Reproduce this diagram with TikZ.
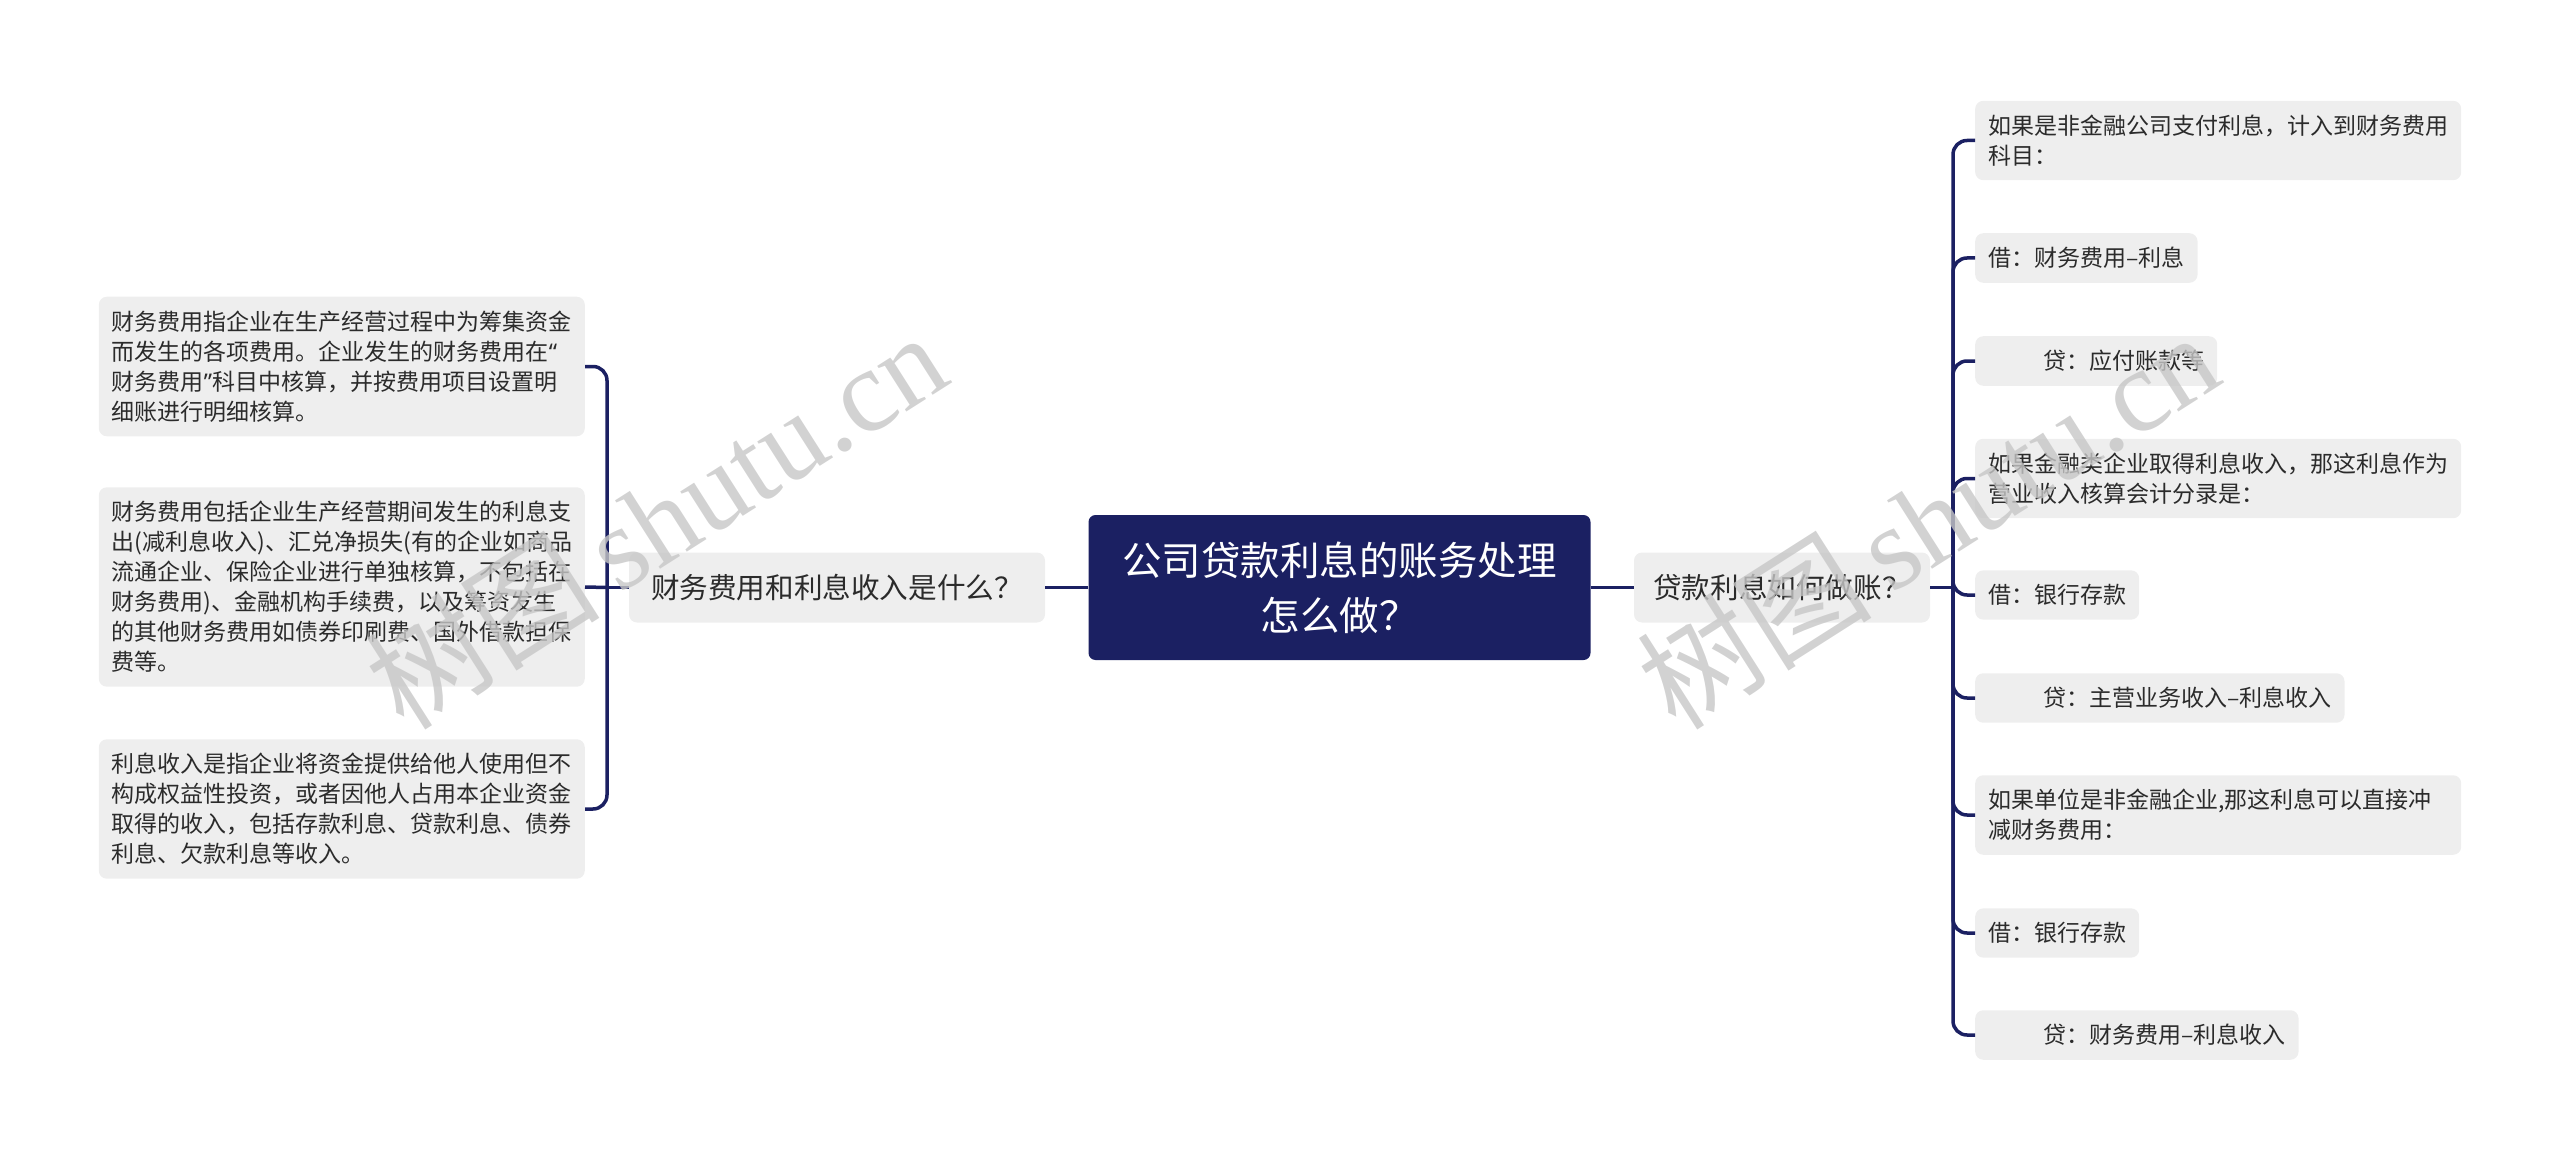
\documentclass[tikz,border=0pt]{standalone}
\usepackage{fontspec}
\setmainfont{Liberation Serif}
\newfontfamily\cjk{Noto Sans CJK SC}
\newfontfamily\quotefont{Noto Sans}
\usepackage{tikz}
\usetikzlibrary{arrows,shapes}
\usetikzlibrary{positioning}
\definecolor{navy}{HTML}{1B2062}
\definecolor{leafbg}{HTML}{EEEEEE}
\definecolor{ink}{HTML}{2B2B2B}
\newcommand{\openq}{{\quotefont “}}
\newcommand{\closeq}{{\quotefont ”}}
\tikzstyle{root} = [fill=navy, rounded corners=7pt, text=white, align=center,
    font=\cjk\fontsize{39.5}{55}\selectfont, minimum width=502pt, minimum height=145pt]
\tikzstyle{topic} = [fill=leafbg, rounded corners=8pt, text=ink, inner xsep=14pt,
    font=\cjk\fontsize{28.6}{36}\selectfont, minimum height=70pt]
\tikzstyle{leaf} = [fill=leafbg, rounded corners=8pt, text=ink, align=left,
    inner xsep=13pt, inner ysep=14pt, font=\cjk\fontsize{23}{30}\selectfont]
\tikzstyle{wide} = [text width=460pt]
\tikzstyle{link} = [draw=navy, line width=3.5pt, rounded corners=14pt]
\tikzstyle{wmark} = [text=black!22, opacity=0.8, font=\fontsize{118}{118}\selectfont]

\begin{document}
\begin{tikzpicture}[x=1pt, y=-1pt]
  \useasboundingbox (0,0) rectangle (2560,1161);
  % Place nodes
  \node [root] (root) at (1339.5,587.5) {公司贷款利息的账务处理\\怎么做？};
  \node [topic, minimum width=416pt] (lq) at (837,587.5) {财务费用和利息收入是什么？};
  \node [topic, minimum width=296pt] (rq) at (1782,587.5) {贷款利息如何做账？};
  % left leaves
  \node [leaf, wide, anchor=east] (l1) at (585,366.5) {财务费用指企业在生产经营过程中为筹集资金\\而发生的各项费用。企业发生的财务费用在\openq\\财务费用\closeq 科目中核算，并按费用项目设置明\\细账进行明细核算。};
  \node [leaf, wide, anchor=east] (l2) at (585,587) {财务费用包括企业生产经营期间发生的利息支\\出(减利息收入)、汇兑净损失(有的企业如商品\\流通企业、保险企业进行单独核算，不包括在\\财务费用)、金融机构手续费，以及筹资发生\\的其他财务费用如债券印刷费、国外借款担保\\费等。};
  \node [leaf, wide, anchor=east] (l3) at (585,809) {利息收入是指企业将资金提供给他人使用但不\\构成权益性投资，或者因他人占用本企业资金\\取得的收入，包括存款利息、贷款利息、债券\\利息、欠款利息等收入。};
  % right leaves
  \node [leaf, wide, anchor=west] (r1) at (1975,140.5) {如果是非金融公司支付利息，计入到财务费用\\科目：};
  \node [leaf, anchor=west] (r2) at (1975,258) {借：财务费用–利息};
  \node [leaf, anchor=west] (r3) at (1975,361) {\hspace*{55pt}贷：应付账款等};
  \node [leaf, wide, anchor=west] (r4) at (1975,478.5) {如果金融类企业取得利息收入，那这利息作为\\营业收入核算会计分录是：};
  \node [leaf, anchor=west] (r5) at (1975,595) {借：银行存款};
  \node [leaf, anchor=west] (r6) at (1975,698) {\hspace*{55pt}贷：主营业务收入–利息收入};
  \node [leaf, wide, anchor=west] (r7) at (1975,815) {如果单位是非金融企业,那这利息可以直接冲\\减财务费用：};
  \node [leaf, anchor=west] (r8) at (1975,933) {借：银行存款};
  \node [leaf, anchor=west] (r9) at (1975,1035) {\hspace*{55pt}贷：财务费用–利息收入};
  \coordinate (lb) at (607,587.5);
  \coordinate (rb) at (1953,587.5);
  % connectors
  \draw [link] (root.west) -- (lq.east);
  \draw [link] (root.east) -- (rq.west);
  \draw [link] (lq.west) -- (lb);
  \draw [link] (rq.east) -- (rb);
  \draw [link] (lb) |- (l1.east);
  \draw [link] (lb) -- (l2.east);
  \draw [link] (lb) |- (l3.east);
  \draw [link] (rb) |- (r1.west);
  \draw [link] (rb) |- (r2.west);
  \draw [link] (rb) |- (r3.west);
  \draw [link] (rb) |- (r4.west);
  \draw [link] (rb) |- (r5.west);
  \draw [link] (rb) |- (r6.west);
  \draw [link] (rb) |- (r7.west);
  \draw [link] (rb) |- (r8.west);
  \draw [link] (rb) |- (r9.west);
  % watermarks
  \node [wmark, rotate=32.5] (wm1) at (655,519) {{\cjk 树图}\,shutu.cn};
  \node [wmark, rotate=32.5] (wm2) at (1927,519) {{\cjk 树图}\,shutu.cn};
\end{tikzpicture}
\end{document}
